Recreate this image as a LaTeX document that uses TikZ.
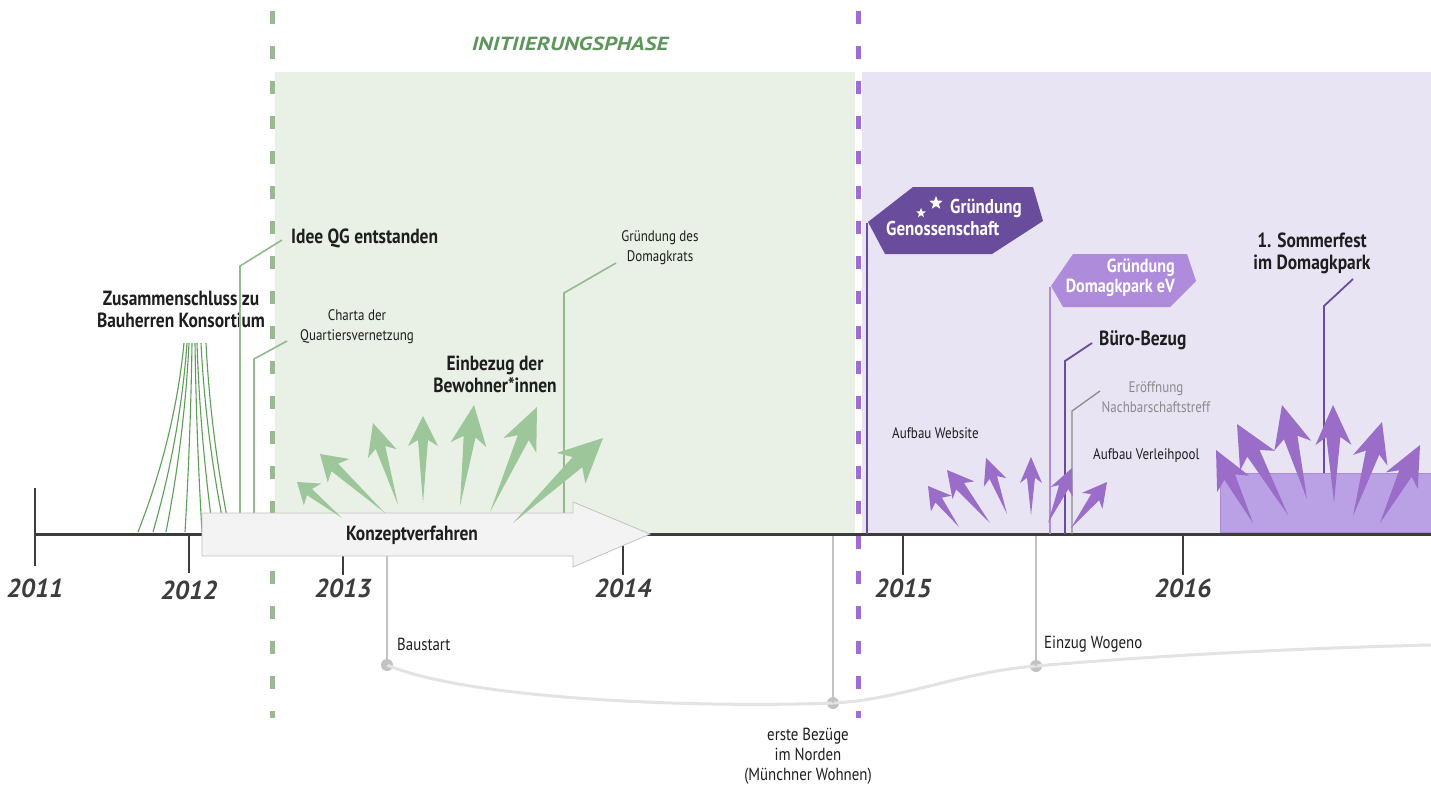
\documentclass[tikz,border=0pt]{standalone}
\usepackage{fontspec}
\setmainfont{PT Sans}[FakeStretch=0.85]
\newfontfamily\yrfont{PT Sans}
\newfontfamily\phasefont{PT Sans}[FakeStretch=1.22]
\usetikzlibrary{calc,shapes.geometric}
\definecolor{txt}{HTML}{1E1E1E}
\definecolor{axisc}{HTML}{3C3C3C}
\definecolor{greenbg}{HTML}{E9F1E6}
\definecolor{purplebg}{HTML}{E8E4F4}
\definecolor{greendash}{HTML}{9BB895}
\definecolor{purpledash}{HTML}{9C6DD4}
\definecolor{greenarrow}{HTML}{9DC79A}
\definecolor{greenfan}{HTML}{5C9E57}
\definecolor{gleadc}{HTML}{93B98C}
\definecolor{phase}{HTML}{5E955C}
\definecolor{purplearrow}{HTML}{9A6DC8}
\definecolor{darkpurple}{HTML}{6A4C9C}
\definecolor{lightpurple}{HTML}{AE8BDB}
\definecolor{festrect}{HTML}{BAA0E4}
\definecolor{grayline}{HTML}{C2C2C2}
\definecolor{graycurve}{HTML}{E3E3E3}
\definecolor{graytext}{HTML}{8A8A8A}
\definecolor{konzeptfill}{HTML}{F3F3F3}
\newcommand\fatarrow[6]{% style, tail, tip, head length, head half width, shaft half width
  \path (#2) coordinate (fa-t) (#3) coordinate (fa-p);
  \path ($(fa-p)!#4!(fa-t)$) coordinate (fa-h);
  \path ($(fa-p)!0.8*#4!(fa-t)$) coordinate (fa-s);
  \fill[#1] (fa-t) -- ($(fa-s)!#6!90:(fa-p)$) -- ($(fa-h)!#5!90:(fa-p)$) -- (fa-p)
    -- ($(fa-h)!#5!-90:(fa-p)$) -- ($(fa-s)!#6!-90:(fa-p)$) -- cycle;
}
\tikzset{
  lbl/.style={font=\fontsize{15.3}{20}\selectfont, text=txt, inner sep=0, align=center},
  biglbl/.style={font=\fontsize{17.5}{20}\selectfont, text=txt, inner sep=0, align=center},
  blbl/.style={font=\bfseries\fontsize{20.5}{22}\selectfont, text=txt, inner sep=0, align=center},
  yr/.style={font=\yrfont\bfseries\itshape\fontsize{26}{26}\selectfont, text=axisc, inner sep=0},
  gleader/.style={draw=gleadc, line width=1.6pt},
  pleader/.style={draw=darkpurple, line width=1.8pt},
  grayleader/.style={draw=grayline, line width=1.8pt},
  fanline/.style={draw=greenfan, line width=1.1pt},
  tickline/.style={draw=axisc, line width=2.6pt},
  phasedash/.style={line width=5pt, dash pattern=on 13pt off 22pt},
  dot/.style={circle, fill=grayline, minimum size=12pt, inner sep=0},
  whitebold/.style={font=\bfseries\fontsize{20}{20}\selectfont, text=white, inner sep=0, align=right},
  starmark/.style={star, star points=5, star point ratio=2.3, fill=white, inner sep=0},
}
\begin{document}
\begin{tikzpicture}[x=1pt,y=-1pt]
\useasboundingbox[fill=white] (0,0) rectangle (1431,787);
% backgrounds
\fill[greenbg] (275,72) rectangle (855,534);
\fill[purplebg] (862,72) rectangle (1431,534);
% phase dashed lines
\coordinate (gdA) at (272,11); \coordinate (gdB) at (272,718);
\coordinate (pdA) at (858,11); \coordinate (pdB) at (858,718);
\draw[phasedash, greendash] (gdA) -- (gdB);
\draw[phasedash, purpledash] (pdA) -- (pdB);
\node[font=\phasefont\bfseries\itshape\fontsize{19}{19}\selectfont, text=phase, inner sep=0] (phaselabel) at (570,44) {INITIIERUNGSPHASE};
% bottom gray curve
\node[dot] (d1) at (387,665) {};
\node[dot] (d2) at (833,703) {};
\node[dot] (d3) at (1036,666) {};
\coordinate (curveEnd) at (1431,645);
\draw[graycurve, line width=3pt] (d1.center) .. controls (470,700) and (700,708) .. (d2.center)
  .. controls (900,700) and (960,672) .. (d3.center) .. controls (1150,656) and (1300,648) .. (curveEnd);
\coordinate (l2a) at (833,534);
\coordinate (l3a) at (1036,534);
\coordinate (l1a) at (387,556);
\draw[grayleader] (l1a) -- (d1.center);
\draw[grayleader] (l2a) -- (d2.center);
\draw[grayleader] (l3a) -- (d3.center);
\node[biglbl, anchor=west] (baustart) at (397,644) {Baustart};
\node[biglbl, anchor=west] (wogeno) at (1044,644) {Einzug Wogeno};
\node[biglbl] (bezuege) at (808,756) {erste Bezüge\\im Norden\\(Münchner Wohnen)};
% axis
\coordinate (axA) at (35,534); \coordinate (axB) at (1431,534);
\draw[axisc, line width=3pt] (axA) -- (axB);
\coordinate (t11a) at (35,488); \coordinate (t11b) at (35,566);
\coordinate (t12a) at (189,534); \coordinate (t12b) at (189,573);
\coordinate (t13a) at (343,556); \coordinate (t13b) at (343,575);
\coordinate (t14a) at (623,545); \coordinate (t14b) at (623,575);
\coordinate (t15a) at (903,534); \coordinate (t15b) at (903,575);
\coordinate (t16a) at (1183,534); \coordinate (t16b) at (1183,575);
\draw[tickline] (t11a) -- (t11b);
\draw[tickline] (t12a) -- (t12b);
\draw[tickline] (t13a) -- (t13b);
\draw[tickline] (t14a) -- (t14b);
\draw[tickline] (t15a) -- (t15b);
\draw[tickline] (t16a) -- (t16b);
\node[yr] (y2011) at (35,588) {2011};
\node[yr] (y2012) at (189,590) {2012};
\node[yr] (y2013) at (343,588) {2013};
\node[yr] (y2014) at (623,588) {2014};
\node[yr] (y2015) at (903,588) {2015};
\node[yr] (y2016) at (1183,588) {2016};
% fan lines
\foreach \b/\t [count=\i] in {138/184,153/187,166/189,185/192,202/195,213/197,225/201,230/206}{
  \coordinate (fb\i) at (\b,532); \coordinate (ft\i) at (\t,343);
  \draw[fanline] (fb\i) .. controls ($(fb\i)!0.33!(ft\i)+(0.2*\t-0.2*\b,0)$) and ($(fb\i)!0.67!(ft\i)+(0.2*\t-0.2*\b,0)$) .. (ft\i);
}
\node[blbl] (zusammen) at (181,309) {Zusammenschluss zu\\Bauherren Konsortium};
% green leaders
\coordinate (ideeA) at (240,513); \coordinate (ideeK) at (240,266); \coordinate (ideeE) at (282,240);
\draw[gleader] (ideeA) -- (ideeK) -- (ideeE);
\node[blbl, anchor=west] (idee) at (291,238) {Idee QG entstanden};
\coordinate (chA) at (254,513); \coordinate (chK) at (254,359); \coordinate (chE) at (287,341);
\draw[gleader] (chA) -- (chK) -- (chE);
\node[lbl] (charta) at (357,327) {Charta der\\Quartiersvernetzung};
\coordinate (doA) at (564,513); \coordinate (doK) at (564,293); \coordinate (doE) at (616,263);
\draw[gleader] (doA) -- (doK) -- (doE);
\node[lbl] (domagkrat) at (660,248) {Gründung des\\Domagkrats};
\node[blbl] (einbezug) at (495,374) {Einbezug der\\Bewohner*innen};
% Konzeptverfahren arrow
\draw[draw=grayline, line width=0.8pt, fill=konzeptfill] (202,513) -- (573,513) -- (573,502) -- (650,534) -- (573,567) -- (573,556) -- (202,556) -- cycle;
\node[blbl] (konzept) at (412,535) {Konzeptverfahren};
% green arrows
\fatarrow{greenarrow}{342,518}{297,482}{20pt}{14pt}{4pt}
\fatarrow{greenarrow}{385,513}{320,454}{25pt}{16pt}{5pt}
\fatarrow{greenarrow}{398,505}{373,423}{32pt}{15pt}{5pt}
\fatarrow{greenarrow}{423,503}{423,416}{30pt}{15pt}{5pt}
\fatarrow{greenarrow}{460,506}{474,405}{40pt}{18pt}{6pt}
\fatarrow{greenarrow}{490,512}{537,407}{42pt}{18pt}{6pt}
\fatarrow{greenarrow}{513,523}{603,438}{44pt}{21pt}{7pt}
% Gründung Genossenschaft
\coordinate (genA) at (867,534); \coordinate (genK) at (867,223);
\draw[pleader] (genA) -- (genK);
\fill[darkpurple] (868,222) -- (913,187) -- (1033,187) -- (1043,221) -- (992,254) -- (885,254) -- cycle;
\node[whitebold, anchor=west] (gen1) at (950,208) {Gründung};
\node[whitebold, anchor=west] (gen2) at (886,228) {Genossenschaft};
\node[starmark, minimum size=10pt] (star1) at (921,213) {};
\node[starmark, minimum size=14pt] (star2) at (936,203) {};
% Gründung Domagkpark eV
\coordinate (dpA) at (1050,534); \coordinate (dpK) at (1050,287);
\draw[draw=lightpurple, line width=1.8pt] (dpA) -- (dpK);
\fill[lightpurple] (1051,286) -- (1073,254) -- (1187,254) -- (1196,281) -- (1170,307) -- (1063,307) -- cycle;
\node[whitebold, font=\bfseries\fontsize{19}{20}\selectfont, anchor=east] (dp) at (1175,278) {Gründung\\Domagkpark eV};
% Büro-Bezug
\coordinate (buA) at (1065,534); \coordinate (buK) at (1065,361); \coordinate (buE) at (1092,343);
\draw[pleader] (buA) -- (buK) -- (buE);
\node[blbl, anchor=west] (buero) at (1099,340) {Büro-Bezug};
% Eröffnung
\coordinate (erA) at (1072,534); \coordinate (erK) at (1072,411); \coordinate (erE) at (1100,391);
\draw[draw=graytext, line width=1.3pt] (erA) -- (erK) -- (erE);
\node[lbl, text=graytext] (eroeff) at (1156,397) {Eröffnung\\Nachbarschaftstreff};
\node[lbl, anchor=west] (website) at (892,433) {Aufbau Website};
\node[lbl, anchor=west] (verleih) at (1093,456) {Aufbau Verleihpool};
% purple arrows (website)
\fatarrow{purplearrow}{959,527}{928,486}{22pt}{13pt}{4pt}
\fatarrow{purplearrow}{990,523}{947,470}{26pt}{14pt}{5pt}
\fatarrow{purplearrow}{1007,514}{986,458}{26pt}{12pt}{4pt}
\fatarrow{purplearrow}{1031,515}{1031,457}{26pt}{11pt}{4pt}
\fatarrow{purplearrow}{1048,523}{1072,468}{26pt}{12pt}{5pt}
\fatarrow{purplearrow}{1071,528}{1107,482}{24pt}{13pt}{5pt}
% Sommerfest
\fill[festrect, draw=purplearrow!80, line width=0.6pt] (1220,473) rectangle (1431,532);
\coordinate (soA) at (1324,473); \coordinate (soK) at (1324,306); \coordinate (soE) at (1353,279);
\draw[pleader] (soA) -- (soK) -- (soE);
\node[blbl] (sommer) at (1312,253) {1. Sommerfest\\im Domagkpark};
\fatarrow{purplearrow}{1253,523}{1216,450}{38pt}{18pt}{6pt}
\fatarrow{purplearrow}{1288,515}{1237,424}{42pt}{20pt}{7pt}
\fatarrow{purplearrow}{1307,499}{1282,405}{42pt}{19pt}{7pt}
\fatarrow{purplearrow}{1334,502}{1333,405}{40pt}{18pt}{7pt}
\fatarrow{purplearrow}{1353,516}{1382,422}{40pt}{18pt}{7pt}
\fatarrow{purplearrow}{1380,523}{1420,445}{40pt}{18pt}{7pt}
\end{tikzpicture}
\end{document}
